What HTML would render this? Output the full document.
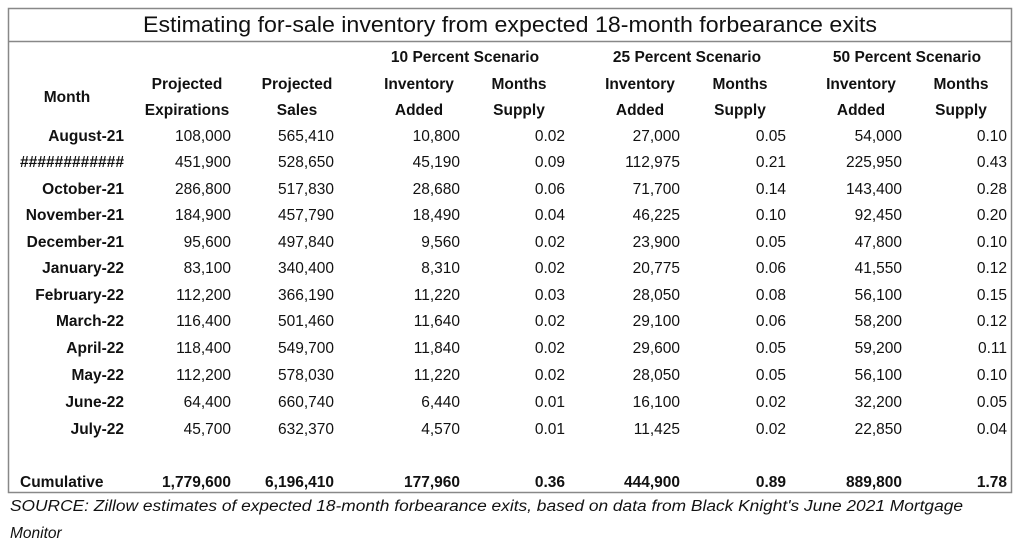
<!DOCTYPE html>
<html><head><meta charset="utf-8"><style>
html,body{margin:0;padding:0;background:#fff;}
svg{display:block;}
text{font-family:"Liberation Sans",Arial,sans-serif;font-size:15.5px;fill:#111;}
.b{font-weight:bold;}
.h{font-weight:bold;text-anchor:middle;}
.r{text-anchor:end;}
</style></head><body>
<svg width="1022" height="546" viewBox="0 0 1022 546">
<rect x="8.5" y="8.5" width="1003" height="484" fill="none" stroke="#888" stroke-width="1.5"/>
<line x1="8" y1="41.5" x2="1012" y2="41.5" stroke="#888" stroke-width="1.5"/>
<text x="143" y="32" style="font-size:22px" textLength="734" lengthAdjust="spacingAndGlyphs">Estimating for-sale inventory from expected 18-month forbearance exits</text>
<text class="h" x="67" y="102">Month</text>
<text class="h" x="187" y="89">Projected</text><text class="h" x="187" y="115">Expirations</text>
<text class="h" x="297" y="89">Projected</text><text class="h" x="297" y="115">Sales</text>
<text class="h" x="465" y="62">10 Percent Scenario</text>
<text class="h" x="419" y="89">Inventory</text><text class="h" x="419" y="115">Added</text>
<text class="h" x="519" y="89">Months</text><text class="h" x="519" y="115">Supply</text>
<text class="h" x="687" y="62">25 Percent Scenario</text>
<text class="h" x="640" y="89">Inventory</text><text class="h" x="640" y="115">Added</text>
<text class="h" x="740" y="89">Months</text><text class="h" x="740" y="115">Supply</text>
<text class="h" x="907" y="62">50 Percent Scenario</text>
<text class="h" x="861" y="89">Inventory</text><text class="h" x="861" y="115">Added</text>
<text class="h" x="961" y="89">Months</text><text class="h" x="961" y="115">Supply</text>
<text class="b" x="20" y="487">Cumulative</text>
<text class="b r" x="231" y="487">1,779,600</text>
<text class="b r" x="334" y="487">6,196,410</text>
<text class="b r" x="460" y="487">177,960</text>
<text class="b r" x="565" y="487">0.36</text>
<text class="b r" x="680" y="487">444,900</text>
<text class="b r" x="786" y="487">0.89</text>
<text class="b r" x="902" y="487">889,800</text>
<text class="b r" x="1007" y="487">1.78</text>
<text x="10" y="511" font-style="italic" textLength="953" lengthAdjust="spacingAndGlyphs">SOURCE: Zillow estimates of expected 18-month forbearance exits, based on data from Black Knight's June 2021 Mortgage</text>
<text x="10" y="538" font-style="italic">Monitor</text>
<g>
<text class="b r" x="124" y="141">August-21</text><text class="r" x="231" y="141">108,000</text><text class="r" x="334" y="141">565,410</text><text class="r" x="460" y="141">10,800</text><text class="r" x="565" y="141">0.02</text><text class="r" x="680" y="141">27,000</text><text class="r" x="786" y="141">0.05</text><text class="r" x="902" y="141">54,000</text><text class="r" x="1007" y="141">0.10</text>
<text class="b r" x="124" y="167" textLength="104" lengthAdjust="spacingAndGlyphs">############</text><text class="r" x="231" y="167">451,900</text><text class="r" x="334" y="167">528,650</text><text class="r" x="460" y="167">45,190</text><text class="r" x="565" y="167">0.09</text><text class="r" x="680" y="167">112,975</text><text class="r" x="786" y="167">0.21</text><text class="r" x="902" y="167">225,950</text><text class="r" x="1007" y="167">0.43</text>
<text class="b r" x="124" y="194">October-21</text><text class="r" x="231" y="194">286,800</text><text class="r" x="334" y="194">517,830</text><text class="r" x="460" y="194">28,680</text><text class="r" x="565" y="194">0.06</text><text class="r" x="680" y="194">71,700</text><text class="r" x="786" y="194">0.14</text><text class="r" x="902" y="194">143,400</text><text class="r" x="1007" y="194">0.28</text>
<text class="b r" x="124" y="220">November-21</text><text class="r" x="231" y="220">184,900</text><text class="r" x="334" y="220">457,790</text><text class="r" x="460" y="220">18,490</text><text class="r" x="565" y="220">0.04</text><text class="r" x="680" y="220">46,225</text><text class="r" x="786" y="220">0.10</text><text class="r" x="902" y="220">92,450</text><text class="r" x="1007" y="220">0.20</text>
<text class="b r" x="124" y="247">December-21</text><text class="r" x="231" y="247">95,600</text><text class="r" x="334" y="247">497,840</text><text class="r" x="460" y="247">9,560</text><text class="r" x="565" y="247">0.02</text><text class="r" x="680" y="247">23,900</text><text class="r" x="786" y="247">0.05</text><text class="r" x="902" y="247">47,800</text><text class="r" x="1007" y="247">0.10</text>
<text class="b r" x="124" y="273">January-22</text><text class="r" x="231" y="273">83,100</text><text class="r" x="334" y="273">340,400</text><text class="r" x="460" y="273">8,310</text><text class="r" x="565" y="273">0.02</text><text class="r" x="680" y="273">20,775</text><text class="r" x="786" y="273">0.06</text><text class="r" x="902" y="273">41,550</text><text class="r" x="1007" y="273">0.12</text>
<text class="b r" x="124" y="300">February-22</text><text class="r" x="231" y="300">112,200</text><text class="r" x="334" y="300">366,190</text><text class="r" x="460" y="300">11,220</text><text class="r" x="565" y="300">0.03</text><text class="r" x="680" y="300">28,050</text><text class="r" x="786" y="300">0.08</text><text class="r" x="902" y="300">56,100</text><text class="r" x="1007" y="300">0.15</text>
<text class="b r" x="124" y="326">March-22</text><text class="r" x="231" y="326">116,400</text><text class="r" x="334" y="326">501,460</text><text class="r" x="460" y="326">11,640</text><text class="r" x="565" y="326">0.02</text><text class="r" x="680" y="326">29,100</text><text class="r" x="786" y="326">0.06</text><text class="r" x="902" y="326">58,200</text><text class="r" x="1007" y="326">0.12</text>
<text class="b r" x="124" y="353">April-22</text><text class="r" x="231" y="353">118,400</text><text class="r" x="334" y="353">549,700</text><text class="r" x="460" y="353">11,840</text><text class="r" x="565" y="353">0.02</text><text class="r" x="680" y="353">29,600</text><text class="r" x="786" y="353">0.05</text><text class="r" x="902" y="353">59,200</text><text class="r" x="1007" y="353">0.11</text>
<text class="b r" x="124" y="380">May-22</text><text class="r" x="231" y="380">112,200</text><text class="r" x="334" y="380">578,030</text><text class="r" x="460" y="380">11,220</text><text class="r" x="565" y="380">0.02</text><text class="r" x="680" y="380">28,050</text><text class="r" x="786" y="380">0.05</text><text class="r" x="902" y="380">56,100</text><text class="r" x="1007" y="380">0.10</text>
<text class="b r" x="124" y="407">June-22</text><text class="r" x="231" y="407">64,400</text><text class="r" x="334" y="407">660,740</text><text class="r" x="460" y="407">6,440</text><text class="r" x="565" y="407">0.01</text><text class="r" x="680" y="407">16,100</text><text class="r" x="786" y="407">0.02</text><text class="r" x="902" y="407">32,200</text><text class="r" x="1007" y="407">0.05</text>
<text class="b r" x="124" y="434">July-22</text><text class="r" x="231" y="434">45,700</text><text class="r" x="334" y="434">632,370</text><text class="r" x="460" y="434">4,570</text><text class="r" x="565" y="434">0.01</text><text class="r" x="680" y="434">11,425</text><text class="r" x="786" y="434">0.02</text><text class="r" x="902" y="434">22,850</text><text class="r" x="1007" y="434">0.04</text>
</g>
</svg>
</body></html>
